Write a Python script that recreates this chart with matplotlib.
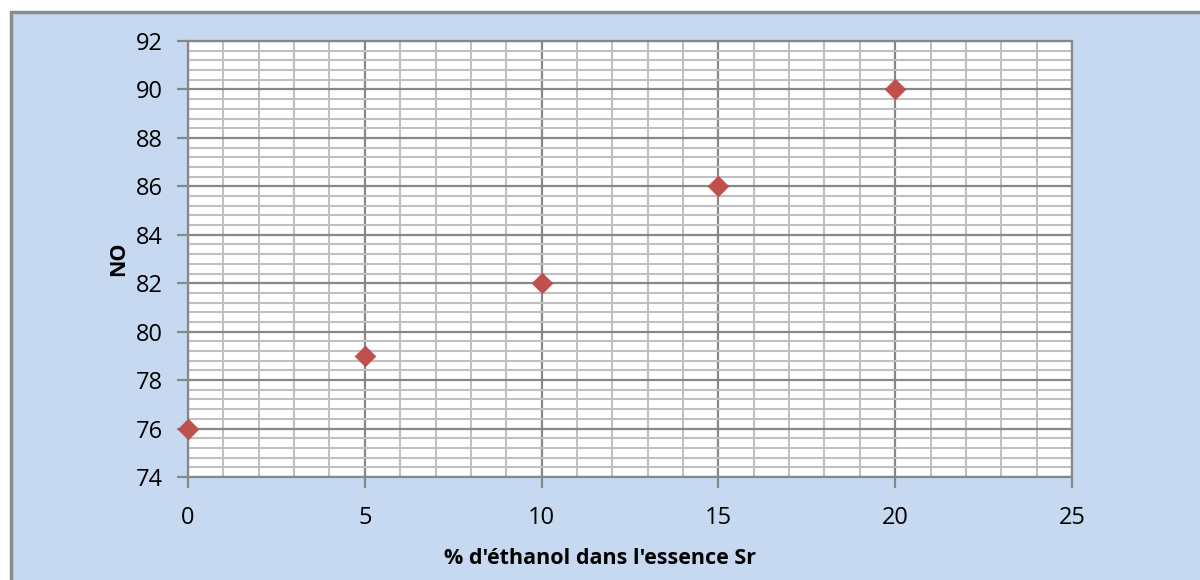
import matplotlib.pyplot as plt
from matplotlib.patches import Rectangle
from matplotlib.ticker import MultipleLocator

# Indice d'octane en fonction du taux d'éthanol
ethanol_pct = [0, 5, 10, 15, 20]
octane_no = [76, 79, 82, 86, 90]

plt.rcParams['font.family'] = ['Open Sans', 'DejaVu Sans']

fig = plt.figure(figsize=(12, 5.8), dpi=100, facecolor='white')

# fond bleu du graphique
bg = Rectangle((11 / 1200, -0.01), 1.0, 1 - 12 / 580 + 0.01,
               transform=fig.transFigure, facecolor='#C6D9F0',
               edgecolor='#8C8C8C', linewidth=2.5)
bg.set_zorder(-10)
fig.add_artist(bg)

ax = fig.add_axes([188 / 1200, 1 - 477 / 580, (1072 - 188) / 1200, (477 - 41) / 580])
ax.set_facecolor('white')

ax.scatter(ethanol_pct, octane_no, marker='D', s=10.5 ** 2, color='#C0504D',
           edgecolors='#B84A47', linewidths=0.5, zorder=5, clip_on=False)

ax.set_xlim(0, 25)
ax.set_ylim(74, 92)
ax.xaxis.set_major_locator(MultipleLocator(5))
ax.xaxis.set_minor_locator(MultipleLocator(1))
ax.yaxis.set_major_locator(MultipleLocator(2))
ax.yaxis.set_minor_locator(MultipleLocator(0.4))

ax.grid(which='minor', color='#C0C0C0', linewidth=1.5)
ax.grid(which='major', color='#878787', linewidth=1.6)
ax.set_axisbelow(True)

for side in ax.spines.values():
    side.set_color('#878787')
    side.set_linewidth(1.6)

ax.tick_params(which='major', length=8, width=1.6, color='#878787',
               labelsize=17, pad=10)
ax.tick_params(axis='x', which='major', pad=13)
ax.tick_params(which='minor', length=0)

ax.set_xlabel("% d'éthanol dans l'essence Sr", fontsize=15.5, fontweight='bold')
ax.xaxis.set_label_coords((600 - 188) / 884, -0.163)
ax.set_ylabel('NO', fontsize=15.5, fontweight='bold', labelpad=5)

fig.savefig('out.png', dpi=100)
